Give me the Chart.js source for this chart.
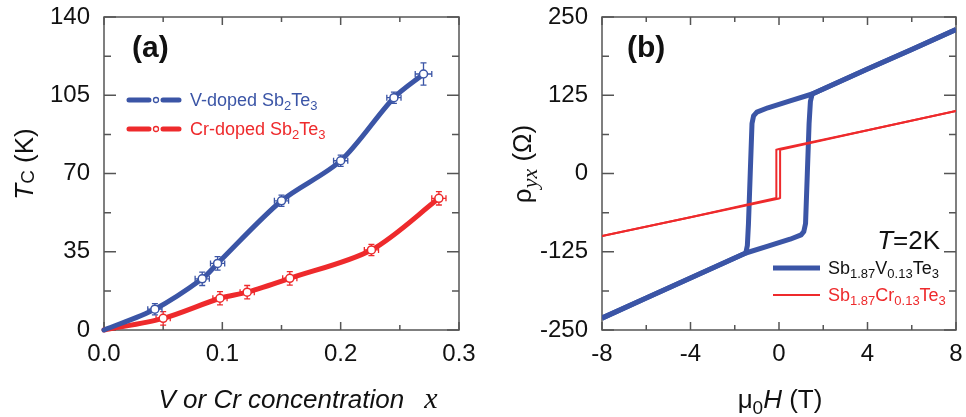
<!DOCTYPE html>
<html>
<head>
<meta charset="utf-8">
<script src="https://cdn.jsdelivr.net/npm/chart.js@4.4.1/dist/chart.umd.min.js"></script>
<style>
  body { margin: 0; background: #fff; width: 966px; height: 417px; overflow: hidden; position: relative; }
  canvas { position: absolute; top: 0; }
  #chartA { left: 0; }
  #chartB { left: 483px; }
</style>
</head>
<body>
<canvas id="chartA" width="483" height="417"></canvas>
<canvas id="chartB" width="483" height="417"></canvas>
<script>
// ---- panel (a): Tc vs doping x ----
const vX      = [0.043, 0.083, 0.096, 0.150, 0.200, 0.245, 0.270];
const vTc     = [9.3, 22.9, 29.8, 57.8, 75.7, 103.9, 114.5];
const vXerr   = [0.006, 0.006, 0.006, 0.006, 0.006, 0.006, 0.007];
const vTcErr  = [2.5, 3, 3, 2.5, 2.5, 2.5, 5];
const crX     = [0.050, 0.098, 0.121, 0.157, 0.226, 0.283];
const crTc    = [5.2, 14.2, 16.9, 23.1, 35.8, 58.9];
const crXerr  = [0.006, 0.006, 0.006, 0.006, 0.006, 0.006];
const crTcErr = [3, 3, 3, 3, 2.5, 3];
const xTicksA = [0, 0.1, 0.2, 0.3];
const yTicksA = [0, 35, 70, 105, 140];

// ---- panel (b): Hall loops at 2K ----
const vDownH = [8, 6, 4, 2, 1.5, 0.5, -0.5, -1.0, -1.15, -1.22, -1.3, -1.38, -1.43, -1.5, -2, -4, -6, -8];
const vDownR = [230, 198, 167, 135, 127, 116, 105, 98, 92, 80, 0, -80, -115, -127, -135, -167, -199, -231];
const vUpH   = [-8, -6, -4, -2, -1.5, -0.5, 0.5, 1.0, 1.12, 1.2, 1.28, 1.36, 1.42, 1.5, 2, 4, 6, 8];
const vUpR   = [-231, -199, -167, -135, -127, -116, -105, -98, -93, -80, 0, 80, 115, 127, 135, 167, 198, 230];
const crDownH = [8, 4, 0, -0.12, -0.12, -4, -8];
const crDownR = [100, 69, 39, 38, -39, -70, -100];
const crUpH   = [-8, -4, 0, 0.05, 0.05, 4, 8];
const crUpR   = [-100, -70, -40, -39, 38, 69, 100];
const xTicksB = [-8, -4, 0, 4, 8];
const yTicksB = [-250, -125, 0, 125, 250];

const BLUE = '#3b55a6';
const RED = '#ee2a2c';
const SANS = '"Liberation Sans", Arial, sans-serif';
const SERIF = '"Liberation Serif", "Times New Roman", serif';

const pts = (xs, ys) => xs.map((x, i) => ({ x: x, y: ys[i] }));

// draw text made of pieces (italic, subscripts...)
function rich(ctx, x, y, segs, align) {
  let w = 0;
  segs.forEach(s => {
    ctx.font = (s.style || '') + ' ' + s.size + 'px ' + (s.family || SANS);
    s.w = ctx.measureText(s.t).width;
    w += s.w;
  });
  let cx = align === 'center' ? x - w / 2 : (align === 'right' ? x - w : x);
  ctx.textAlign = 'left';
  ctx.textBaseline = 'alphabetic';
  segs.forEach(s => {
    ctx.font = (s.style || '') + ' ' + s.size + 'px ' + (s.family || SANS);
    ctx.fillText(s.t, cx, y + (s.dy || 0));
    cx += s.w;
  });
}
const sub = (t, size) => ({ t: t, size: size, dy: size * 0.3 });

// box + inward ticks on all four sides
const framePlugin = {
  id: 'frame',
  beforeDatasetsDraw(chart) {
    const { ctx, chartArea: a, scales } = chart;
    ctx.save();
    ctx.strokeStyle = '#555';
    ctx.lineWidth = 1.5;
    ctx.strokeRect(a.left, a.top, a.right - a.left, a.bottom - a.top);
    const xs = scales.x.ticks.map(t => t.value);
    const ys = scales.y.ticks.map(t => t.value);
    ctx.beginPath();
    xs.forEach((v, i) => {
      const list = [[v, 8]];
      if (i < xs.length - 1) list.push([(v + xs[i + 1]) / 2, 5]);
      list.forEach(([val, len]) => {
        const px = scales.x.getPixelForValue(val);
        ctx.moveTo(px, a.bottom); ctx.lineTo(px, a.bottom - len);
        ctx.moveTo(px, a.top); ctx.lineTo(px, a.top + len);
      });
    });
    ys.forEach((v, i) => {
      const list = [[v, 12]];
      if (i < ys.length - 1) list.push([(v + ys[i + 1]) / 2, 7]);
      list.forEach(([val, len]) => {
        const py = scales.y.getPixelForValue(val);
        ctx.moveTo(a.left, py); ctx.lineTo(a.left + len, py);
        ctx.moveTo(a.right, py); ctx.lineTo(a.right - len, py);
      });
    });
    ctx.stroke();
    ctx.restore();
  }
};

// error bars under the open circles
const errorBarPlugin = {
  id: 'errbars',
  beforeDatasetDraw(chart, args) {
    const ds = chart.data.datasets[args.index];
    if (!ds.errX) return;
    const { ctx, scales: { x, y } } = chart;
    ctx.save();
    ctx.strokeStyle = ds.pointBorderColor;
    ctx.lineWidth = 1.3;
    ctx.beginPath();
    ds.data.forEach((p, i) => {
      const px = x.getPixelForValue(p.x), py = y.getPixelForValue(p.y);
      const x0 = x.getPixelForValue(p.x - ds.errX[i]), x1 = x.getPixelForValue(p.x + ds.errX[i]);
      const y0 = y.getPixelForValue(p.y - ds.errY[i]), y1 = y.getPixelForValue(p.y + ds.errY[i]);
      ctx.moveTo(x0, py); ctx.lineTo(x1, py);
      ctx.moveTo(x0, py - 3); ctx.lineTo(x0, py + 3);
      ctx.moveTo(x1, py - 3); ctx.lineTo(x1, py + 3);
      ctx.moveTo(px, y0); ctx.lineTo(px, y1);
      ctx.moveTo(px - 3, y0); ctx.lineTo(px + 3, y0);
      ctx.moveTo(px - 3, y1); ctx.lineTo(px + 3, y1);
    });
    ctx.stroke();
    ctx.restore();
  }
};

function axisCfg(min, max, tickList, fmt, pad, size) {
  return {
    type: 'linear', min: min, max: max,
    grid: { display: false, drawTicks: false },
    border: { display: false },
    afterBuildTicks: s => { s.ticks = tickList.map(v => ({ value: v })); },
    ticks: {
      autoSkip: false, maxRotation: 0, padding: pad, color: '#111',
      font: { family: SANS, size: 24 },
      callback: fmt
    },
    afterFit: s => {
      if (s.isHorizontal()) s.height = size; else s.width = size;
      // keep the plot box where the layout padding puts it
      s.paddingTop = s.paddingBottom = s.paddingLeft = s.paddingRight = 0;
    }
  };
}

const labelsA = {
  id: 'labelsA',
  afterDraw(chart) {
    const ctx = chart.ctx;
    ctx.save();
    ctx.fillStyle = '#111';
    rich(ctx, 132, 57, [{ t: '(a)', size: 30, style: 'bold' }], 'left');
    // legend
    [[BLUE, 100, 'V-doped Sb'], [RED, 129, 'Cr-doped Sb']].forEach(([c, yy, name]) => {
      ctx.strokeStyle = c; ctx.lineWidth = 5; ctx.lineCap = 'round';
      ctx.beginPath();
      ctx.moveTo(129, yy); ctx.lineTo(149, yy);
      ctx.moveTo(163, yy); ctx.lineTo(179, yy);
      ctx.stroke();
      ctx.lineWidth = 1.3; ctx.fillStyle = '#fff';
      ctx.beginPath(); ctx.arc(156, yy, 2.5, 0, Math.PI * 2); ctx.fill(); ctx.stroke();
      ctx.fillStyle = c;
      rich(ctx, 190, yy + 6, [{ t: name, size: 18 }, sub('2', 13), { t: 'Te', size: 18 }, sub('3', 13)], 'left');
    });
    ctx.fillStyle = '#111';
    rich(ctx, 298, 408, [{ t: 'V or Cr concentration', size: 26, style: 'italic' }, { t: '    ', size: 18 },
      { t: 'x', size: 30, style: 'italic', family: SERIF }], 'center');
    ctx.translate(33, 164);
    ctx.rotate(-Math.PI / 2);
    rich(ctx, 0, 0, [{ t: 'T', size: 26, style: 'italic' }, { t: 'C', size: 19, dy: 1 }, { t: ' (K)', size: 26 }], 'center');
    ctx.restore();
  }
};

const labelsB = {
  id: 'labelsB',
  afterDraw(chart) {
    const ctx = chart.ctx;
    ctx.save();
    ctx.fillStyle = '#111';
    rich(ctx, 144, 57, [{ t: '(b)', size: 30, style: 'bold' }], 'left');
    rich(ctx, 457, 249, [{ t: 'T', size: 26, style: 'italic' }, { t: '=2K', size: 26 }], 'right');
    ctx.lineCap = 'butt';
    ctx.strokeStyle = BLUE; ctx.lineWidth = 5;
    ctx.beginPath(); ctx.moveTo(290, 268); ctx.lineTo(337, 268); ctx.stroke();
    ctx.strokeStyle = RED; ctx.lineWidth = 2;
    ctx.beginPath(); ctx.moveTo(290, 295); ctx.lineTo(337, 295); ctx.stroke();
    ctx.fillStyle = '#111';
    rich(ctx, 345, 274, [{ t: 'Sb', size: 18 }, sub('1.87', 13), { t: 'V', size: 18 }, sub('0.13', 13),
      { t: 'Te', size: 18 }, sub('3', 13)], 'left');
    ctx.fillStyle = RED;
    rich(ctx, 345, 301, [{ t: 'Sb', size: 18 }, sub('1.87', 13), { t: 'Cr', size: 18 }, sub('0.13', 13),
      { t: 'Te', size: 18 }, sub('3', 13)], 'left');
    ctx.fillStyle = '#111';
    rich(ctx, 297, 408, [{ t: '\u03bc', size: 26 }, sub('0', 19), { t: 'H', size: 26, style: 'italic' }, { t: ' (T)', size: 26 }], 'center');
    ctx.translate(48, 164);
    ctx.rotate(-Math.PI / 2);
    rich(ctx, 0, 0, [{ t: '\u03c1', size: 26 }, { t: 'yx', size: 22, style: 'italic', family: SERIF, dy: 6 },
      { t: ' (\u03a9)', size: 26 }], 'center');
    ctx.restore();
  }
};

const baseOpts = {
  responsive: false,
  animation: false,
  plugins: { legend: { display: false }, tooltip: { enabled: false } }
};

new Chart(document.getElementById('chartA'), {
  type: 'scatter',
  data: {
    datasets: [
      { data: pts(vX, vTc), errX: vXerr, errY: vTcErr, pointRadius: 4, pointBorderWidth: 1.5,
        pointBackgroundColor: '#fff', pointBorderColor: BLUE, showLine: false },
      { data: pts(crX, crTc), errX: crXerr, errY: crTcErr, pointRadius: 4, pointBorderWidth: 1.5,
        pointBackgroundColor: '#fff', pointBorderColor: RED, showLine: false },
      { data: [{ x: 0, y: 0 }].concat(pts(vX, vTc)), showLine: true, pointRadius: 0, borderColor: BLUE,
        borderWidth: 5, tension: 0.3, borderCapStyle: 'round', clip: 5 },
      { data: [{ x: 0, y: 0 }].concat(pts(crX, crTc)), showLine: true, pointRadius: 0, borderColor: RED,
        borderWidth: 5, tension: 0.3, borderCapStyle: 'round', clip: 5 }
    ]
  },
  options: Object.assign({}, baseOpts, {
    layout: { padding: { top: 17, right: 24, left: 0, bottom: 0 } },
    scales: {
      x: axisCfg(0, 0.3, xTicksA, v => v.toFixed(1), 10, 87),
      y: axisCfg(0, 140, yTicksA, v => v, 14, 104)
    }
  }),
  plugins: [framePlugin, errorBarPlugin, labelsA]
});

new Chart(document.getElementById('chartB'), {
  type: 'scatter',
  data: {
    datasets: [
      { data: pts(crDownH, crDownR), showLine: true, pointRadius: 0, borderColor: RED, borderWidth: 2 },
      { data: pts(crUpH, crUpR), showLine: true, pointRadius: 0, borderColor: RED, borderWidth: 2 },
      { data: pts(vDownH, vDownR), showLine: true, pointRadius: 0, borderColor: BLUE, borderWidth: 5,
        borderJoinStyle: 'round' },
      { data: pts(vUpH, vUpR), showLine: true, pointRadius: 0, borderColor: BLUE, borderWidth: 5,
        borderJoinStyle: 'round' }
    ]
  },
  options: Object.assign({}, baseOpts, {
    layout: { padding: { top: 17, right: 10, left: 0, bottom: 0 } },
    scales: {
      x: axisCfg(-8, 8, xTicksB, v => v, 10, 87),
      y: axisCfg(-250, 250, yTicksB, v => v, 14, 119)
    }
  }),
  plugins: [framePlugin, labelsB]
});
</script>
</body>
</html>
